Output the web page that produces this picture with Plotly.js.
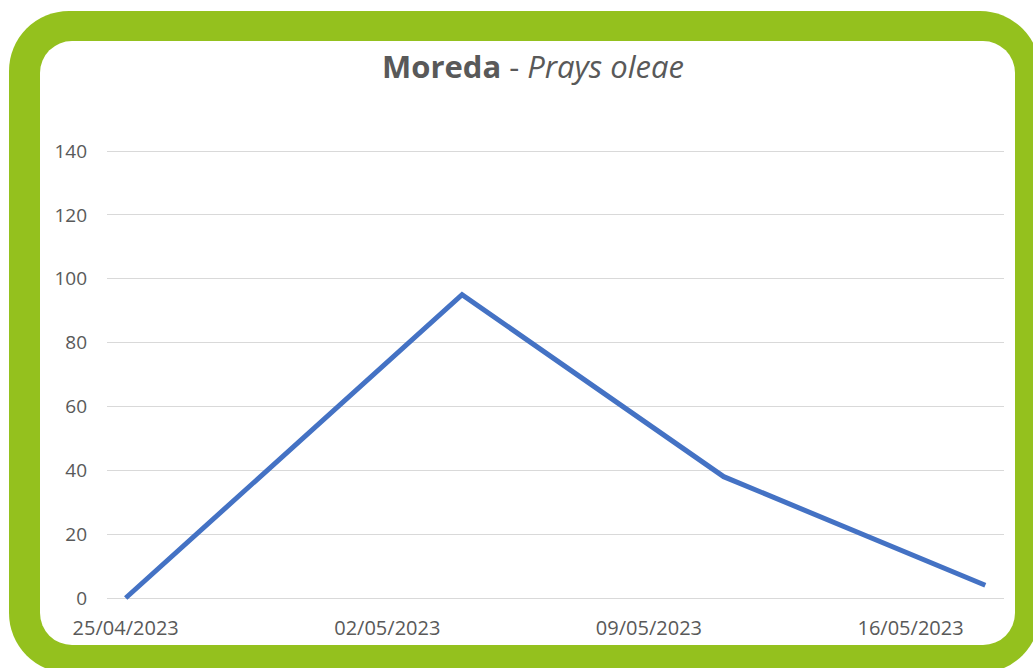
<!DOCTYPE html>
<html>
<head>
<meta charset="utf-8">
<script src="https://cdn.plot.ly/plotly-3.0.1.min.js"></script>
<style>
  html, body { margin:0; padding:0; width:1033px; height:668px; overflow:hidden; background:#ffffff; }
  #frame { position:absolute; left:9px; top:11px; width:1031px; height:662px; background:#94C11E; border-radius:60px; }
  #inner { position:absolute; left:40px; top:41px; width:975px; height:604px; background:#ffffff; border-radius:32px; }
  #chart { position:absolute; left:0; top:0; width:1033px; height:668px; }
</style>
</head>
<body>
<div id="frame"></div>
<div id="inner"></div>
<div id="chart"></div>
<script>
const dates = ['2023-04-25', '2023-05-04', '2023-05-11', '2023-05-18'];
const counts = [0, 95, 38, 4];
const tickDates = ['2023-04-25', '2023-05-02', '2023-05-09', '2023-05-16'];
const tickLabels = ['25/04/2023', '02/05/2023', '09/05/2023', '16/05/2023'];
const yTicks = [0, 20, 40, 60, 80, 100, 120, 140];

const trace = {
  x: dates, y: counts, type: 'scatter', mode: 'lines',
  line: { color: '#4472C4', width: 5 },
  hoverinfo: 'skip'
};

const layout = {
  width: 1033, height: 668,
  paper_bgcolor: 'rgba(0,0,0,0)', plot_bgcolor: 'rgba(0,0,0,0)',
  margin: { l: 107, r: 29, t: 149, b: 68 },
  showlegend: false,
  font: { family: 'Open Sans, sans-serif', color: '#595959' },
  title: {
    text: '<b>Moreda</b> - <i>Prays oleae</i>',
    font: { family: 'Open Sans, sans-serif', size: 31, color: '#595959' },
    x: 533 / 1033, xref: 'container', xanchor: 'center',
    y: 1 - 67 / 668, yref: 'container', yanchor: 'middle'
  },
  xaxis: {
    type: 'date',
    range: ['2023-04-24 12:00', '2023-05-18 12:00'],
    tickmode: 'array', tickvals: tickDates, ticktext: tickLabels,
    showgrid: false, zeroline: false, showline: false,
    ticks: '', ticklabelstandoff: 14,
    tickfont: { size: 20, color: '#595959' }
  },
  yaxis: {
    range: [-0.626, 140.626],
    tickmode: 'array', tickvals: yTicks,
    showgrid: true, gridcolor: '#D9D9D9', gridwidth: 1,
    zeroline: false, showline: false, ticks: '',
    ticklabelstandoff: 19,
    tickfont: { size: 19, color: '#595959' }
  }
};

Plotly.newPlot('chart', [trace], layout, { displayModeBar: false, staticPlot: true });
</script>
</body>
</html>
